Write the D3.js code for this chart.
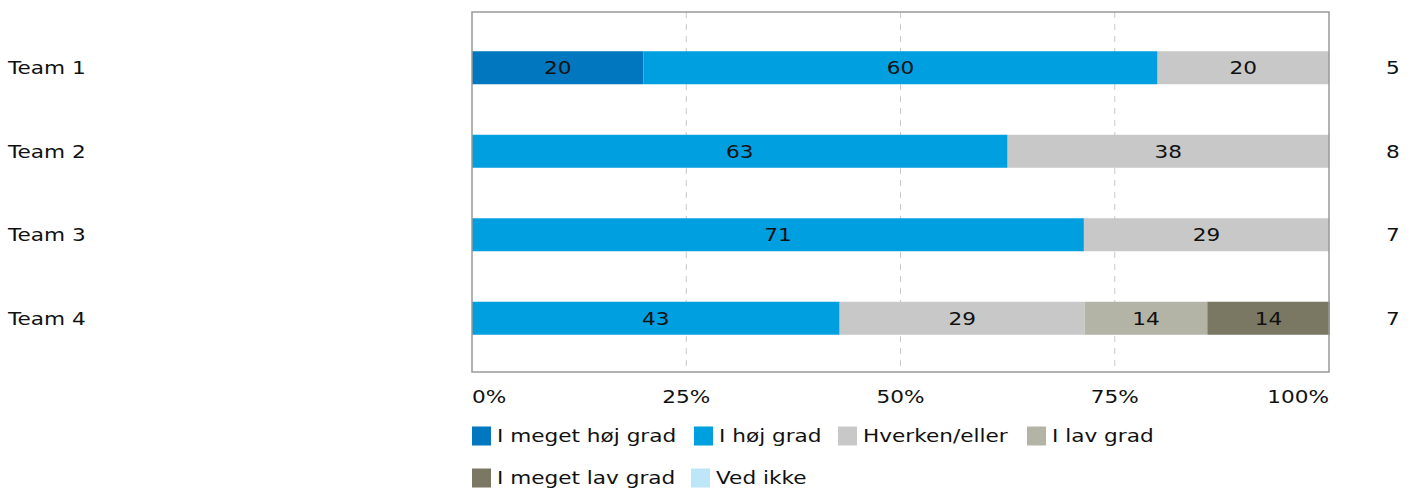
<!DOCTYPE html>
<html>
<head>
<meta charset="utf-8">
<script src="https://cdn.jsdelivr.net/npm/d3@7"></script>
<style>
  body { margin: 0; background: #fff; }
  svg { display: block; font-family: "DejaVu Sans", Verdana, sans-serif; }
</style>
</head>
<body>
<svg id="chart"></svg>
<script>
const teams = ["Team 1", "Team 2", "Team 3", "Team 4"];
const counts = [5, 8, 7, 7];
const categories = ["I meget høj grad", "I høj grad", "Hverken/eller", "I lav grad", "I meget lav grad", "Ved ikke"];
const colors = ["#0077be", "#009fe0", "#c8c8c8", "#b3b4a6", "#7a7762", "#bee6f9"];
// percent per category, one row per team
const meget_hoj = [20, 0, 0, 0];
const hoj = [60, 62.5, 71.4, 42.9];
const hverken = [20, 37.5, 28.6, 28.6];
const lav = [0, 0, 0, 14.3];
const meget_lav = [0, 0, 0, 14.3];
const ved_ikke = [0, 0, 0, 0];
const tickValues = [0, 25, 50, 75, 100];

const series = [meget_hoj, hoj, hverken, lav, meget_lav, ved_ikke];

const width = 1418, height = 493;
const margin = { top: 12, right: 89, bottom: 121, left: 472 };
const fontSize = 18;
const stretch = 1.2;  // reference font is wider than DejaVu

const svg = d3.select("#chart").attr("width", width).attr("height", height);

const x = d3.scaleLinear().domain([0, 100]).range([margin.left, width - margin.right]);
const y = d3.scaleBand().domain(teams).range([26, 360]).padding(0);
const barH = 33;

// put text at (px,py) with a horizontal stretch
function place(sel, px, py) {
  sel.attr("transform", (d, i) => `translate(${px(d, i)},${py(d, i)}) scale(${stretch},1)`)
    .attr("dy", "0.36em")
    .attr("font-size", fontSize)
    .attr("fill", "#111");
}

// gridlines
svg.append("g")
  .selectAll("line")
  .data([25, 50, 75])
  .join("line")
  .attr("x1", d => x(d)).attr("x2", d => x(d))
  .attr("y1", margin.top).attr("y2", height - margin.bottom)
  .attr("stroke", "#c8c8c8")
  .attr("stroke-dasharray", "6,6");

// stacked bars
const rows = teams.map((t, i) => {
  let acc = 0;
  return series.map((s, k) => {
    const seg = { team: t, k: k, v: s[i], x0: acc, x1: acc + s[i] };
    acc += s[i];
    return seg;
  }).filter(d => d.v > 0);
});

const bars = svg.append("g");
rows.forEach(segs => {
  const g = bars.append("g");
  g.selectAll("rect")
    .data(segs)
    .join("rect")
    .attr("x", d => x(d.x0))
    .attr("width", d => x(d.x1) - x(d.x0))
    .attr("y", d => y(d.team) + (y.bandwidth() - barH) / 2)
    .attr("height", barH)
    .attr("fill", d => colors[d.k]);
  g.selectAll("text")
    .data(segs)
    .join("text")
    .call(place, d => (x(d.x0) + x(d.x1)) / 2, d => y(d.team) + y.bandwidth() / 2)
    .attr("text-anchor", "middle")
    .text(d => Math.round(d.v));
});

// frame
svg.append("rect")
  .attr("x", x(0)).attr("y", margin.top)
  .attr("width", x(100) - x(0)).attr("height", height - margin.bottom - margin.top)
  .attr("fill", "none")
  .attr("stroke", "#999")
  .attr("stroke-width", 1.5);

// team labels
svg.append("g")
  .selectAll("text")
  .data(teams)
  .join("text")
  .call(place, () => 8, d => y(d) + y.bandwidth() / 2)
  .text(d => d);

// counts on right
svg.append("g")
  .selectAll("text")
  .data(teams)
  .join("text")
  .call(place, () => 1393, d => y(d) + y.bandwidth() / 2)
  .attr("text-anchor", "middle")
  .text((d, i) => counts[i]);

// x tick labels
svg.append("g")
  .selectAll("text")
  .data(tickValues)
  .join("text")
  .call(place, d => x(d), () => 397)
  .attr("text-anchor", d => d === 0 ? "start" : d === 100 ? "end" : "middle")
  .text(d => d + "%");

// legend
const legendPos = [[472, 436], [694, 436], [838, 436], [1027, 436], [472, 478], [691, 478]];
const legend = svg.append("g")
  .selectAll("g")
  .data(categories)
  .join("g")
  .attr("transform", (d, i) => `translate(${legendPos[i][0]},${legendPos[i][1]})`);
legend.append("rect")
  .attr("x", 0).attr("y", -9.5)
  .attr("width", 19).attr("height", 19)
  .attr("fill", (d, i) => colors[i]);
legend.append("text")
  .call(place, () => 25, () => 0)
  .text(d => d);
</script>
</body>
</html>
